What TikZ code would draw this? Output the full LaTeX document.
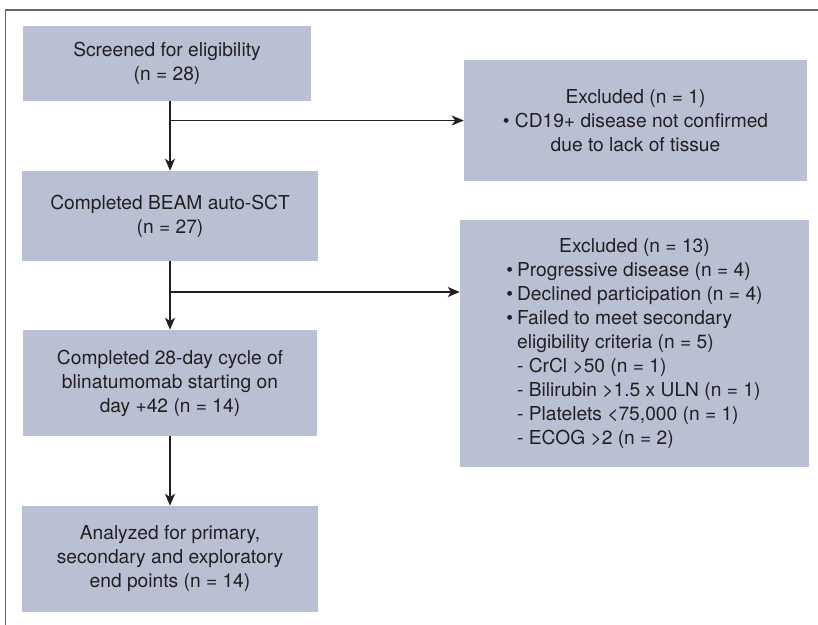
\documentclass[tikz,border=0pt]{standalone}
\usepackage{fontspec}
\setmainfont{TeX Gyre Heros}
\usetikzlibrary{arrows.meta}
\definecolor{boxfill}{RGB}{185,192,212}
\definecolor{txt}{RGB}{35,31,32}
\definecolor{framegray}{RGB}{100,100,100}
\begin{document}
\begin{tikzpicture}[x=0.75pt,y=-0.75pt,
  box/.style={fill=boxfill,draw=none,inner sep=0pt,align=center,text=txt,
    font=\fontsize{14.4}{18}\selectfont},
  conn/.style={draw=txt,line width=1pt,-{Stealth[length=9pt,width=7.5pt,inset=2.5pt]}},
  plain/.style={draw=txt,line width=1pt}]
\useasboundingbox (0,0) rectangle (818,625);
\draw[framegray,line width=1.1pt] (5.5,625) -- (5.5,10) -- (818,10);

\node[box,minimum width=216pt,minimum height=56.25pt] (b1) at (167,63.5)
  {Screened for eligibility\\(n = 28)};
\node[box,minimum width=222pt,minimum height=67.5pt] (b2) at (170,216)
  {Completed BEAM auto-SCT\\(n = 27)};
\node[box,minimum width=220.5pt,minimum height=79.5pt] (b3) at (170,383)
  {Completed 28-day cycle of\\blinatumomab starting on\\day +42 (n = 14)};
\node[box,minimum width=222pt,minimum height=79.5pt] (b4) at (170,559)
  {Analyzed for primary,\\secondary and exploratory\\end points (n = 14)};
\node[box,minimum width=257.25pt,minimum height=90.75pt] (e1) at (635.5,120.5)
  {Excluded (n = 1)\\\textbullet\ CD19+ disease not confirmed\\due to lack of tissue};
\node[box,minimum width=261.75pt,minimum height=185.25pt] (e2) at (634.5,343.5)
  {\begin{tabular}{@{}l@{\hspace{3pt}}l@{}}
   \multicolumn{2}{c}{Excluded (n = 13)}\\
   \textbullet & Progressive disease (n = 4)\\
   \textbullet & Declined participation (n = 4)\\
   \textbullet & Failed to meet secondary\\
    & eligibility criteria (n = 5)\\
    & - CrCl >50 (n = 1)\\
    & - Bilirubin >1.5 x ULN (n = 1)\\
    & - Platelets <75,000 (n = 1)\\
    & - ECOG >2 (n = 2)
   \end{tabular}};

\coordinate (j1) at (170,120.5);
\coordinate (j2) at (170,292);

\draw[plain] (b2.north |- b1.south) -- (j1);
\draw[conn] (j1) -- (b2.north);
\draw[conn] (j1) -- (e1.west);
\draw[plain] (b2.south) -- (j2);
\draw[conn] (j2) -- (b3.north);
\draw[conn] (j2) -- (e2.west |- j2);
\draw[conn] (b3.south) -- (b4.north);
\end{tikzpicture}
\end{document}
